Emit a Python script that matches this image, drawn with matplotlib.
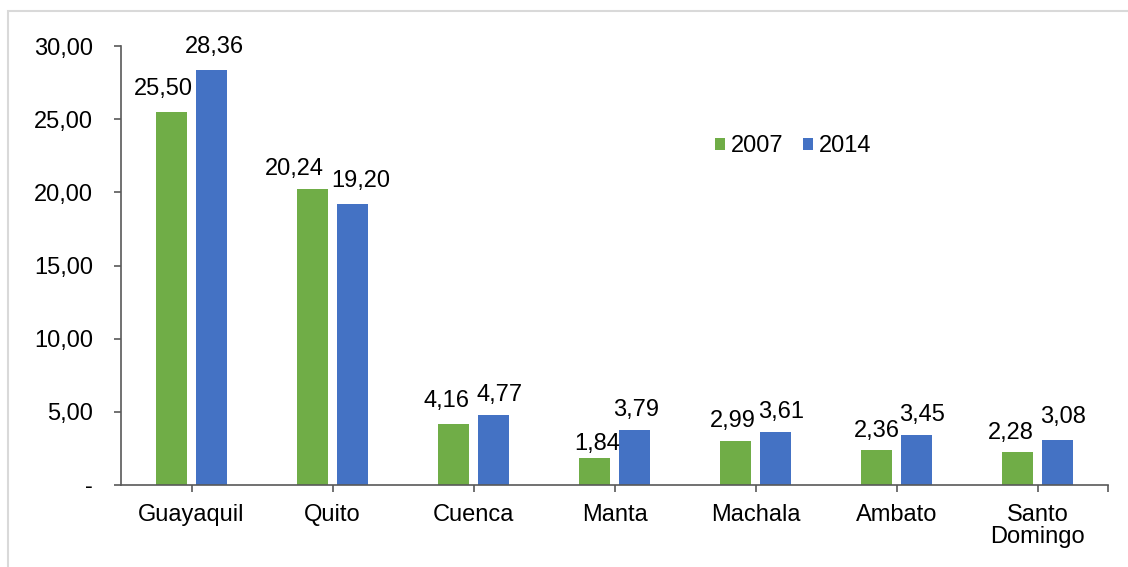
import matplotlib.pyplot as plt
import numpy as np
from matplotlib.patches import Rectangle

plt.rcParams["font.family"] = ["Liberation Sans", "DejaVu Sans"]

cities = ["Guayaquil", "Quito", "Cuenca", "Manta", "Machala", "Ambato", "Santo\nDomingo"]
v2007 = [25.50, 20.24, 4.16, 1.84, 2.99, 2.36, 2.28]
v2014 = [28.36, 19.20, 4.77, 3.79, 3.61, 3.45, 3.08]
yticks = [0, 5, 10, 15, 20, 25, 30]

# small manual nudges of the value labels (points), like in the original
nudge_2007 = [(-6, 12), (-13, 10), (-5, 12), (2, 6), (-2, 10), (0, 10), (-5, 9)]
nudge_2014 = [(2, 12), (6, 12), (4, 10), (1, 10), (4, 10), (4, 10), (4, 12)]

green = "#70AD47"
blue = "#4472C4"
axis_col = "#595959"
FS = 17


def fmt(v):
    return f"{v:.2f}".replace(".", ",")


fig = plt.figure(figsize=(11.28, 5.67), dpi=100)
ax = fig.add_axes([121 / 1128, 1 - 485 / 567, (1108 - 121) / 1128, (485 - 46) / 567])

# light frame around the chart
fig.patches.append(Rectangle((8 / 1128, -0.02), 1.05, 1 - 11 / 567 + 0.02,
                             transform=fig.transFigure, fill=False,
                             edgecolor="#D9D9D9", linewidth=1.5))

x = np.arange(len(cities))
w = 0.225
off = 0.142
b1 = ax.bar(x - off, v2007, w, color=green, label="2007")
b2 = ax.bar(x + off, v2014, w, color=blue, label="2014")

for bars, vals, nudges in ((b1, v2007, nudge_2007), (b2, v2014, nudge_2014)):
    for b, v, (dx, dy) in zip(bars, vals, nudges):
        ax.annotate(fmt(v), (b.get_x() + b.get_width() / 2, v),
                    xytext=(dx, dy), textcoords="offset points",
                    ha="center", va="baseline", fontsize=FS)

ax.set_xlim(-0.5, len(cities) - 0.5)
ax.set_ylim(0, 30)
ax.set_yticks(yticks)
ax.set_yticklabels(["-"] + [fmt(t) for t in yticks[1:]], fontsize=FS)
ax.set_xticks(list(x) + [len(cities) - 0.5])
ax.set_xticklabels(cities + [""], fontsize=FS, linespacing=1.0)

for s in ["top", "right"]:
    ax.spines[s].set_visible(False)
for s in ["left", "bottom"]:
    ax.spines[s].set_color(axis_col)
    ax.spines[s].set_linewidth(1.2)
ax.tick_params(axis="both", colors=axis_col, labelcolor="black", length=5, width=1.2)
ax.tick_params(axis="y", pad=15)
ax.tick_params(axis="x", pad=9)

ax.legend(loc="center", bbox_to_anchor=(0.681, 0.772), ncol=2, frameon=False,
          fontsize=FS, handlelength=0.42, handleheight=0.42, handletextpad=0.25,
          columnspacing=0.85)

fig.savefig("out.png", dpi=100)
